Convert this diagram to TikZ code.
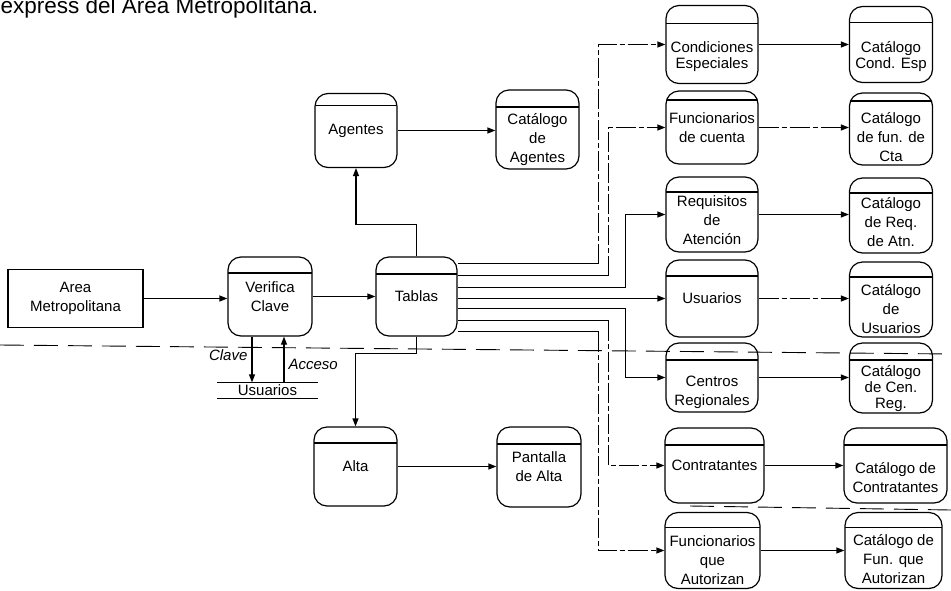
\documentclass[tikz,border=0pt]{standalone}
\usepackage{fontspec}
\setmainfont{Liberation Sans}
\usetikzlibrary{arrows.meta}
% lowers the text inside a box (tall first line)
\newcommand{\dnstrut}[1]{\rule{0pt}{#1}}
\tikzset{
  proc/.style={draw,rounded corners=13pt,align=center,inner sep=1pt,minimum height=76pt,
    path picture={\draw ([yshift=-#1]path picture bounding box.north west) -- ([yshift=-#1]path picture bounding box.north east);}},
  proc/.default=16pt,
  colA/.style={minimum width=92pt},
  colB/.style={minimum width=83pt},
  brk/.style={dash pattern=on 20pt off 3pt on 5pt off 3pt},
  sep/.style={line width=0.9pt,dash pattern=on 24pt off 10pt}
}
\begin{document}
\begin{tikzpicture}[x=1pt,y=-1pt,line width=1.2pt,>={Triangle[length=8pt,width=6pt]},
  every node/.style={font=\fontsize{15}{19}\selectfont}]
\useasboundingbox (0,0) rectangle (951,590);
\node[anchor=base west,inner sep=0pt,font=\fontsize{22.5}{27}\selectfont] (title) at (0,13) {express del Area Metropolitana.};

% left part
\node[draw,minimum width=135pt,minimum height=58pt,align=center] (area) at (75.5,298.5) {Area\\Metropolitana};
\node[proc,minimum width=84pt,minimum height=79pt] (verif) at (270,296.5) {Verifica\\Clave};
\node[proc=17pt,minimum width=81pt,minimum height=79pt] (tablas) at (416.5,296.5) {Tablas};
\node[inner sep=0pt,minimum width=100pt,minimum height=15pt] (store) at (267.5,390.5) {Usuarios};
\draw (store.north west) -- (store.north east) (store.south west) -- (store.south east);
\node[proc=12pt,minimum width=82pt,minimum height=74pt] (agentes) at (356,130.5) {Agentes};
\node[proc=17pt,minimum width=83pt,minimum height=79pt] (catag) at (537.5,129.5) {\dnstrut{32pt}Catálogo\\de\\Agentes};
\node[proc,minimum width=83pt,minimum height=79pt] (alta) at (355.5,466.5) {Alta};
\node[proc=17pt,minimum width=84pt,minimum height=80pt] (pant) at (539,467) {Pantalla\\de Alta};

% first column
\node[proc=18pt,colA,minimum height=78pt] (cond) at (712,44.5) {\dnstrut{36pt}Condiciones\\[-3pt]Especiales};
\node[proc=9pt,colA,minimum height=73pt] (fcta) at (712,127.5) {Funcionarios\\de cuenta};
\node[proc=15pt,colA,minimum height=75pt] (req) at (712,214.5) {\dnstrut{22pt}Requisitos\\de\\Atención};
\node[proc,colA,minimum height=77pt] (usu) at (712,298.5) {Usuarios};
\node[proc=17pt,colA,minimum height=69pt] (cent) at (712,377.5) {\dnstrut{40pt}Centros\\Regionales};
\node[proc=17pt,minimum width=99pt,minimum height=75pt] (contr) at (714.5,465.5) {Contratantes};
\node[proc=15pt,minimum width=95pt,minimum height=76pt] (fautor) at (712.5,550.5) {\dnstrut{31pt}Funcionarios\\que\\Autorizan};

% second column
\node[proc,colB,minimum height=76pt] (ccond) at (891,44.5) {\dnstrut{36pt}Catálogo\\[-3pt]Cond. Esp};
\node[proc=8pt,colB,minimum height=72pt] (cfun) at (891,129) {\dnstrut{27pt}Catálogo\\de fun. de\\Cta};
\node[proc=15pt,colB,minimum height=75pt] (creq) at (891,215.5) {\dnstrut{24pt}Catálogo\\de Req.\\de Atn.};
\node[proc=15pt,colB,minimum height=75pt] (cusu) at (891,299.5) {\dnstrut{30pt}Catálogo\\de\\Usuarios};
\node[proc=17pt,colB,minimum height=70pt] (ccent) at (891,378) {\dnstrut{32pt}Catálogo\\[-3pt]de Cen.\\[-3pt]Reg.};
\node[proc=17pt,minimum width=103pt,minimum height=75pt] (ccontr) at (895.5,465.5) {\dnstrut{35pt}Catálogo de\\Contratantes};
\node[proc=15pt,minimum width=97pt,minimum height=76pt] (cfaut) at (893.5,550.5) {\dnstrut{29pt}Catálogo de\\Fun. que\\Autorizan};

% separators
\draw[sep] (0,345) -- (951,354);
\draw[sep] (690,506) -- (951,510);

% flows
\draw[->] (area.east) -- (area.east -| verif.west);
\draw[->] (verif.east) -- (tablas.west);
\draw[->] ([xshift=-18pt]verif.south) -- ([xshift=-18pt]verif.south |- store.north)
  node[pos=0.4,left,inner sep=4pt,font=\fontsize{15}{19}\selectfont\itshape] (lclave) {Clave};
\draw[->] ([xshift=14pt]verif.south |- store.north) -- ([xshift=14pt]verif.south)
  node[pos=0.4,right,inner sep=4pt,font=\fontsize{15}{19}\selectfont\itshape] (lacceso) {Acceso};
\draw[->] (tablas.north) -- ++(0,-32) -| (agentes.south);
\draw[->] (agentes.east) -- (agentes.east -| catag.west);
\draw[->] (tablas.south) -- ++(0,17) -| (alta.north);
\draw[->] (alta.east) -- (alta.east -| pant.west);

% Tablas to the first column
\draw ([yshift=33pt]tablas.east) -- ++(141,0) coordinate (r1);
\draw[->,brk] (r1) |- (cond.west);
\draw ([yshift=21pt]tablas.east) -- ++(151,0) coordinate (r2);
\draw[->,brk] (r2) |- (fcta.west);
\draw[->] ([yshift=9pt]tablas.east) -- ++(168,0) |- (req.west);
\draw[->] (tablas.east |- usu.west) -- (usu.west);
\draw[->] ([yshift=-12pt]tablas.east) -- ++(168,0) |- (cent.west);
\draw ([yshift=-24pt]tablas.east) -- ++(151,0) coordinate (r6);
\draw[->,brk] (r6) |- (contr.west);
\draw ([yshift=-35pt]tablas.east) -- ++(141,0) coordinate (r7);
\draw[->,brk] (r7) |- (fautor.west);

% first column to catalogues
\draw[->] (cond.east) -- (cond.east -| ccond.west);
\draw[->,brk] (fcta.east) -- (fcta.east -| cfun.west);
\draw[->] (req.east) -- (req.east -| creq.west);
\draw[->,brk] (usu.east) -- (usu.east -| cusu.west);
\draw[->] (cent.east) -- (cent.east -| ccent.west);
\draw[->] (contr.east) -- (contr.east -| ccontr.west);
\draw[->] (fautor.east) -- (fautor.east -| cfaut.west);
\end{tikzpicture}
\end{document}
